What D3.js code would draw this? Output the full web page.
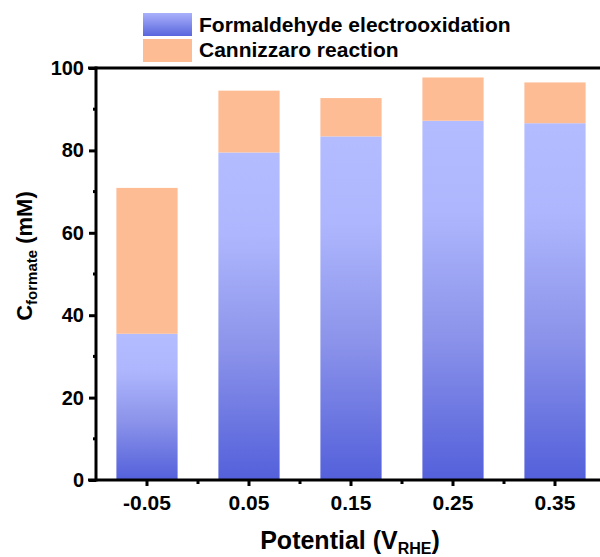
<!DOCTYPE html>
<html>
<head>
<meta charset="utf-8">
<script src="https://cdn.jsdelivr.net/npm/d3@7"></script>
<style>
  html, body { margin: 0; padding: 0; background: #fff; }
  svg { display: block; font-family: "Liberation Sans", Arial, sans-serif; }
</style>
</head>
<body>
<svg id="chart" width="600" height="557"></svg>
<script>
// Formate concentration by applied potential, split by origin
const potentials = ["-0.05", "0.05", "0.15", "0.25", "0.35"];
const electrooxidation = [35.5, 79.5, 83.4, 87.2, 86.6];
const cannizzaro = [35.4, 15.0, 9.3, 10.5, 9.9];
const seriesNames = ["Formaldehyde electrooxidation", "Cannizzaro reaction"];
const yTicks = [0, 20, 40, 60, 80, 100];

const svg = d3.select("#chart");
const W = 600, H = 557;

const x = d3.scaleBand().domain(potentials).range([96, 96 + 5 * 102]).paddingInner(0.4).paddingOuter(0.2);
const y = d3.scaleLinear().domain([0, 100]).range([480, 68]);

// vertical gradient for the electrooxidation bars
const defs = svg.append("defs");
const grad = defs.append("linearGradient").attr("id", "blueGrad")
  .attr("x1", 0).attr("y1", 0).attr("x2", 0).attr("y2", 1);
grad.append("stop").attr("offset", "0%").attr("stop-color", "#b3bcff");
grad.append("stop").attr("offset", "25%").attr("stop-color", "#aeb7fd");
grad.append("stop").attr("offset", "60%").attr("stop-color", "#8b93ea");
grad.append("stop").attr("offset", "100%").attr("stop-color", "#5360da");

const legGrad = defs.append("linearGradient").attr("id", "legGrad")
  .attr("x1", 0).attr("y1", 0).attr("x2", 0).attr("y2", 1);
legGrad.append("stop").attr("offset", "0%").attr("stop-color", "#a9b1fb");
legGrad.append("stop").attr("offset", "100%").attr("stop-color", "#5a66dc");

const orange = "#fdbc93";

// stacked bars
const rows = potentials.map((p, i) => ({ p, a: electrooxidation[i], b: cannizzaro[i] }));
const bars = svg.append("g");
bars.selectAll("rect.ox").data(rows).join("rect")
  .attr("class", "ox")
  .attr("x", d => x(d.p))
  .attr("width", x.bandwidth())
  .attr("y", d => y(d.a))
  .attr("height", d => y(0) - y(d.a))
  .attr("fill", "url(#blueGrad)");
bars.selectAll("rect.cz").data(rows).join("rect")
  .attr("class", "cz")
  .attr("x", d => x(d.p))
  .attr("width", x.bandwidth())
  .attr("y", d => y(d.a + d.b))
  .attr("height", d => y(d.a) - y(d.a + d.b))
  .attr("fill", orange);

// frame: top line
svg.append("line").attr("x1", 88).attr("x2", W).attr("y1", 68).attr("y2", 68)
  .attr("stroke", "#000").attr("stroke-width", 3);

// y axis
const yAxis = d3.axisLeft(y).tickValues(yTicks).tickSize(7).tickPadding(5);
const gy = svg.append("g").attr("transform", "translate(96,0)").call(yAxis);
gy.select(".domain").attr("stroke-width", 3).attr("d", "M0,481.5V66.5");
gy.selectAll(".tick line").attr("stroke-width", 3);
gy.selectAll(".tick text").attr("font-size", 20).attr("font-weight", "bold")
  .attr("font-family", "Liberation Sans, Arial, sans-serif").attr("fill", "#000");
// minor y ticks
gy.selectAll("line.minor").data(d3.range(10, 100, 20)).join("line")
  .attr("class", "minor").attr("x1", 0).attr("x2", -3)
  .attr("y1", d => y(d)).attr("y2", d => y(d))
  .attr("stroke", "#000").attr("stroke-width", 3);

// x axis
const xAxis = d3.axisBottom(x).tickSize(6).tickPadding(9);
const gx = svg.append("g").attr("transform", "translate(0,480)").call(xAxis);
gx.select(".domain").attr("stroke-width", 3).attr("d", "M88,0H" + W);
gx.selectAll(".tick line").attr("stroke-width", 3);
gx.selectAll(".tick text").attr("font-size", 21).attr("font-weight", "bold")
  .attr("font-family", "Liberation Sans, Arial, sans-serif").attr("fill", "#000");
// minor x ticks between categories
const step = x.step();
gx.selectAll("line.minor").data(potentials).join("line")
  .attr("class", "minor")
  .attr("x1", d => x(d) + x.bandwidth() / 2 + step / 2)
  .attr("x2", d => x(d) + x.bandwidth() / 2 + step / 2)
  .attr("y1", 0).attr("y2", 4)
  .attr("stroke", "#000").attr("stroke-width", 3);

// axis titles
const xt = svg.append("text").attr("x", 350).attr("y", 549).attr("text-anchor", "middle")
  .attr("font-size", 25).attr("font-weight", "bold");
xt.append("tspan").text("Potential (V");
xt.append("tspan").attr("font-size", 16).attr("dy", 5).text("RHE");
xt.append("tspan").attr("dy", -5).text(")");

const yt = svg.append("text").attr("transform", "translate(32,256) rotate(-90)")
  .attr("text-anchor", "middle").attr("font-size", 22).attr("font-weight", "bold");
yt.append("tspan").text("C");
yt.append("tspan").attr("font-size", 15).attr("dy", 5).text("formate");
yt.append("tspan").attr("dy", -5).text(" (mM)");

// legend
const legend = svg.append("g");
const fills = ["url(#legGrad)", orange];
seriesNames.forEach((name, i) => {
  legend.append("rect").attr("x", 143).attr("y", 13 + i * 26).attr("width", 49).attr("height", 23)
    .attr("fill", fills[i]);
  legend.append("text").attr("x", 199).attr("y", 32 + i * 25).attr("font-size", 21)
    .attr("font-weight", "bold").text(name);
});
</script>
</body>
</html>
